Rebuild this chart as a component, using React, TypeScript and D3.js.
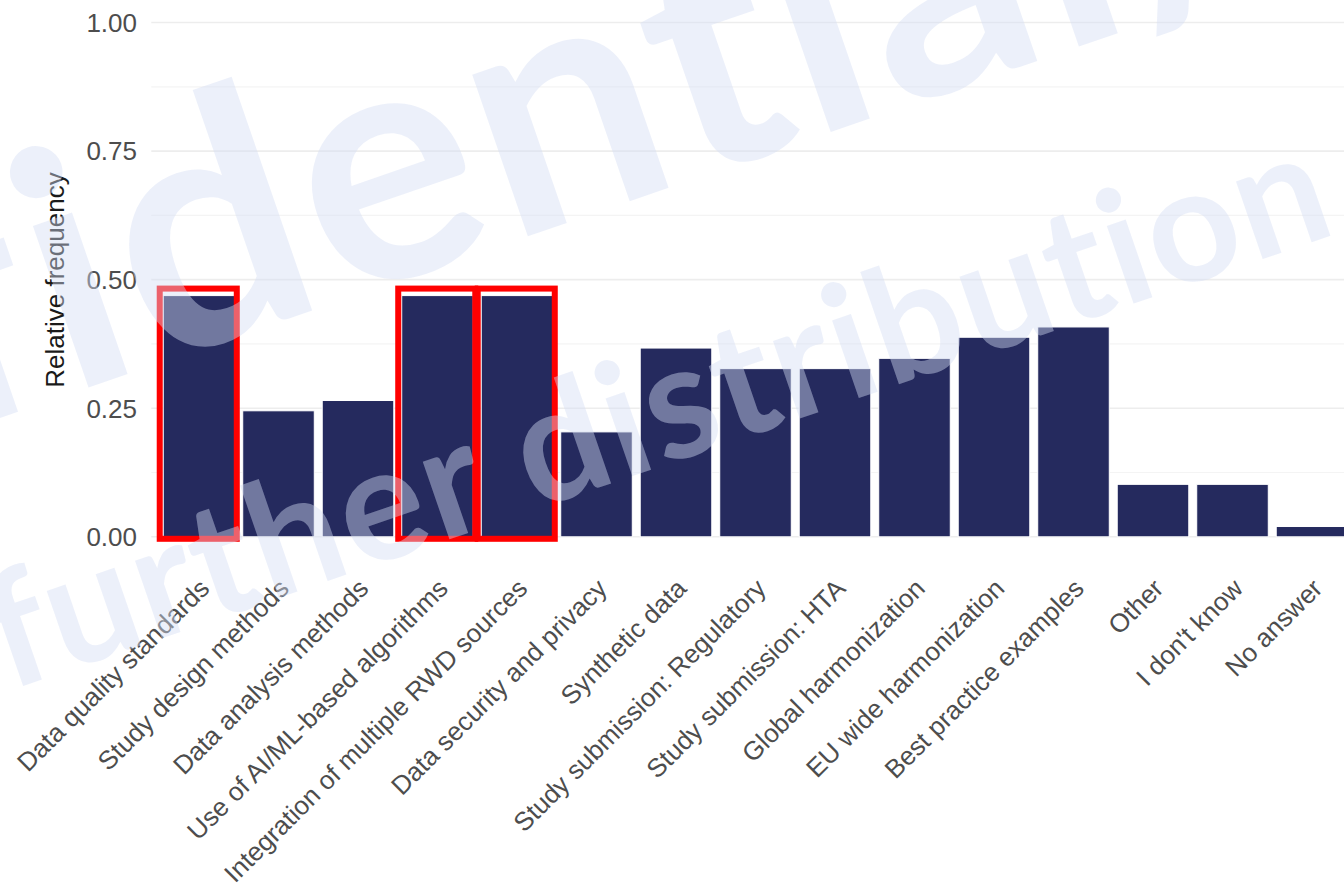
import React from "react";
import * as d3 from "d3";

const categories: string[] = [
  "Data quality standards",
  "Study design methods",
  "Data analysis methods",
  "Use of AI/ML-based algorithms",
  "Integration of multiple RWD sources",
  "Data security and privacy",
  "Synthetic data",
  "Study submission: Regulatory",
  "Study submission: HTA",
  "Global harmonization",
  "EU wide harmonization",
  "Best practice examples",
  "Other",
  "I don't know",
  "No answer",
];

const relFreq: number[] = [
  0.469, 0.245, 0.265, 0.469, 0.469, 0.204, 0.367, 0.327, 0.327, 0.347,
  0.388, 0.408, 0.102, 0.102, 0.02,
];

const highlighted: string[] = [
  "Data quality standards",
  "Use of AI/ML-based algorithms",
  "Integration of multiple RWD sources",
];

const majorTicks: number[] = [0, 0.25, 0.5, 0.75, 1];
const minorTicks: number[] = [0.125, 0.375, 0.625, 0.875];
const tickLabels: string[] = ["0.00", "0.25", "0.50", "0.75", "1.00"];

const W = 1344;
const H = 883;
const FONT = "'Liberation Sans', Arial, Helvetica, sans-serif";

export default function App() {
  const step = 79.5;
  const firstCenter = 199;
  const x = d3
    .scaleBand<string>()
    .domain(categories)
    .range([firstCenter - step / 2, firstCenter - step / 2 + step * categories.length])
    .paddingInner(0.1)
    .paddingOuter(0.05);
  const y = d3.scaleLinear().domain([0, 1]).range([536.8, 22.5]);
  const panelLeft = firstCenter - 0.6 * step;
  const bw = x.bandwidth();

  const wmFill = "rgb(211,221,244)";
  const wmOpacity = 0.44;
  const wmFont = "Lato, 'Open Sans', sans-serif";

  return (
    <svg
      width={W}
      height={H}
      viewBox={`0 0 ${W} ${H}`}
      style={{ position: "absolute", left: 0, top: 0, display: "block", background: "#fff" }}
    >
      <rect x={0} y={0} width={W} height={H} fill="#ffffff" />
      {/* grid */}
      {minorTicks.map((t) => (
        <line key={"mn" + t} x1={panelLeft} x2={W} y1={y(t)} y2={y(t)} stroke="#f4f4f4" strokeWidth={1.2} />
      ))}
      {majorTicks.map((t) => (
        <line key={"mj" + t} x1={panelLeft} x2={W} y1={y(t)} y2={y(t)} stroke="#ededed" strokeWidth={1.6} />
      ))}
      {/* bars */}
      {categories.map((c, i) => (
        <rect
          key={c}
          x={x(c)!}
          y={y(relFreq[i])}
          width={bw}
          height={y(0) - y(relFreq[i])}
          fill="#252a5e"
          stroke="#ffffff"
          strokeWidth={1}
        />
      ))}
      {/* highlight boxes */}
      {highlighted.map((c) => {
        const i = categories.indexOf(c);
        const x0 = x(c)! - 3.5;
        const x1 = x(c)! + bw + 2;
        const y0 = y(relFreq[i]) - 7;
        const y1 = y(0) + 2;
        return (
          <rect key={"hl" + c} x={x0} y={y0} width={x1 - x0} height={y1 - y0} fill="none" stroke="#ff0000" strokeWidth={6} />
        );
      })}
      {/* y tick labels */}
      {majorTicks.map((t, i) => (
        <text
          key={"yl" + t}
          x={137}
          y={y(t)}
          dy="0.36em"
          textAnchor="end"
          fontFamily={FONT}
          fontSize={26}
          fill="#4d4d4d"
        >
          {tickLabels[i]}
        </text>
      ))}
      {/* y title */}
      <text
        transform={`translate(63.5,280) rotate(-90)`}
        textAnchor="middle"
        fontFamily={FONT}
        fontSize={26}
        fill="#1a1a1a"
      >
        Relative frequency
      </text>
      {/* x labels */}
      {categories.map((c) => {
        const cx = x(c)! + bw / 2 + 12;
        return (
          <text
            key={"xl" + c}
            transform={`translate(${cx},590) rotate(-45)`}
            textAnchor="end"
            fontFamily={FONT}
            fontSize={26}
            fill="#4d4d4d"
          >
            {c}
          </text>
        );
      })}
      {/* watermark */}
      <g
        fill={wmFill}
        fillOpacity={wmOpacity}
        fontFamily={wmFont}
        fontWeight={700}
        style={{ fontVariantLigatures: "none" }}
      >
        <text transform="translate(61.5,396.8) rotate(-19)" fontSize={333} textAnchor="end">
          Conf
        </text>
        <text
          transform="translate(68.1,394.6) rotate(-19)"
          fontSize={333}
          textLength={1291}
          lengthAdjust="spacing"
        >
          idential/
        </text>
        <text
          transform="translate(8.5,691) rotate(-19)"
          fontSize={160}
          textLength={1407}
          lengthAdjust="spacing"
        >
          further distribution
        </text>
      </g>
    </svg>
  );
}
